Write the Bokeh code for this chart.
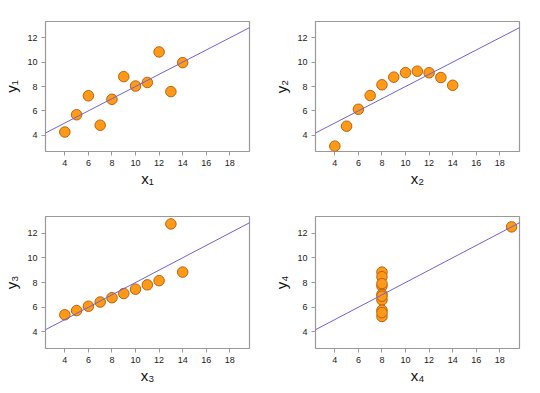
from bokeh.plotting import figure
from bokeh.layouts import column, row
from bokeh.models import Slope, FixedTicker, Range1d
from bokeh.embed import file_html
from bokeh.resources import INLINE

x123 = [10, 8, 13, 9, 11, 14, 6, 4, 12, 7, 5]
y1 = [8.04, 6.95, 7.58, 8.81, 8.33, 9.96, 7.24, 4.26, 10.84, 4.82, 5.68]
y2 = [9.14, 8.14, 8.74, 8.77, 9.26, 8.10, 6.13, 3.10, 9.13, 7.26, 4.74]
y3 = [7.46, 6.77, 12.74, 7.11, 7.81, 8.84, 6.08, 5.39, 8.15, 6.42, 5.73]
x4 = [8, 8, 8, 8, 8, 8, 8, 19, 8, 8, 8]
y4 = [6.58, 5.76, 7.71, 8.84, 8.47, 7.04, 5.25, 12.50, 5.56, 7.91, 6.89]
fit_slope = 0.5
fit_intercept = 3.0
x_ticks = [4, 6, 8, 10, 12, 14, 16, 18]
y_ticks = [4, 6, 8, 10, 12]
x_labels = ["x\u2081", "x\u2082", "x\u2083", "x\u2084"]
y_labels = ["y\u2081", "y\u2082", "y\u2083", "y\u2084"]

FONT = "Liberation Sans"


def panel(xs, ys, xl, yl, w, h, bl, bt, br, bb):
    p = figure(width=w, height=h, output_backend="svg", toolbar_location=None,
               x_range=Range1d(2.36, 19.67), y_range=Range1d(2.66, 13.34),
               min_border_left=bl, min_border_top=bt, min_border_right=br,
               min_border_bottom=bb, background_fill_color="white",
               border_fill_color="white")
    p.grid.visible = False
    p.outline_line_color = "#999999"
    p.outline_line_width = 1.2
    for ax in (p.xaxis[0], p.yaxis[0]):
        ax.axis_line_color = None
        ax.major_tick_line_color = "#999999"
        ax.major_tick_out = 4
        ax.major_tick_in = 0
        ax.minor_tick_line_color = None
        ax.major_label_text_font = FONT
        ax.major_label_text_font_size = "9px"
        ax.major_label_text_color = "#222222"
        ax.axis_label_text_font = FONT
        ax.axis_label_text_font_size = "15px"
        ax.axis_label_text_font_style = "normal"
        ax.axis_label_text_color = "#111111"
    p.xaxis.ticker = FixedTicker(ticks=x_ticks)
    p.yaxis.ticker = FixedTicker(ticks=y_ticks)
    p.xaxis.axis_label = xl
    p.yaxis.axis_label = yl
    p.xaxis.major_label_standoff = 4
    p.yaxis.major_label_standoff = 4
    p.xaxis.axis_label_standoff = 1
    p.yaxis.axis_label_standoff = 4
    p.add_layout(Slope(gradient=fit_slope, y_intercept=fit_intercept,
                       line_color="#6f63d6", line_width=1))
    p.scatter(xs, ys, size=10.5, fill_color="#ff9a18", line_color="#c0600a",
              line_width=1)
    return p


p1 = panel(x123, y1, x_labels[0], y_labels[0], 270, 200, 45, 21, 21, 49)
p2 = panel(x123, y2, x_labels[1], y_labels[1], 270, 200, 45, 21, 21, 49)
p3 = panel(x123, y3, x_labels[2], y_labels[2], 270, 193, 45, 16, 21, 45)
p4 = panel(x4, y4, x_labels[3], y_labels[3], 270, 193, 45, 16, 21, 45)

layout = column(row(p1, p2), row(p3, p4))
open("out.html", "w").write(file_html(layout, INLINE))
